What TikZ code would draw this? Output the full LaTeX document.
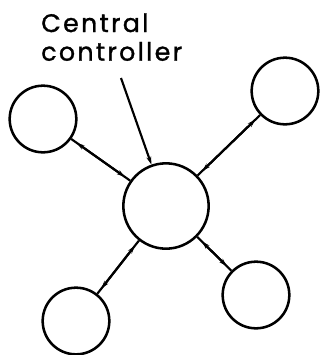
\documentclass[tikz,border=0pt]{standalone}
\usepackage{fontspec}
\setmainfont{Poppins}
\newfontfamily\capfont[LetterSpace=9, FakeBold=1.2]{Poppins}
\usepackage{tikz}
\usetikzlibrary{arrows.meta, positioning, calc}

\begin{document}
\begin{tikzpicture}[
  x=0.75pt, y=-0.75pt,
  stn/.style={circle, draw=black, line width=1.9pt, minimum size=50pt, inner sep=0pt},
  hub/.style={stn, minimum size=64pt},
  lnk/.style={line width=1.6pt},
  arr/.style={{Stealth[length=6pt, width=3.6pt]}-{Stealth[length=6pt, width=3.6pt]}, line width=1.6pt, shorten <=5pt, shorten >=5pt},
  ptr/.style={-{Stealth[length=6pt, width=3.6pt]}, line width=1.6pt},
  lbl/.style={font=\capfont\fontsize{19}{21.5}\selectfont, align=left, inner sep=0pt},
]
\useasboundingbox (0,0) rectangle (321,355);

\node[hub] (ctr) at (166,206) {};
\node[stn] (tl)  at (43,119)  {};
\node[stn] (tr)  at (285,91)  {};
\node[stn] (bl)  at (76,321)  {};
\node[stn] (br)  at (256,295) {};

\node[lbl, anchor=north west] (cap) at (41,13) {Central\\controller};
\coordinate (tip) at (121,78);

% links with inset heads
\foreach \s in {tl,tr,bl,br} {
  \draw[lnk] (\s) -- (ctr);
  \draw[arr] (\s) -- (ctr);
}
\draw[ptr] (tip) -- (ctr);
\end{tikzpicture}
\end{document}
